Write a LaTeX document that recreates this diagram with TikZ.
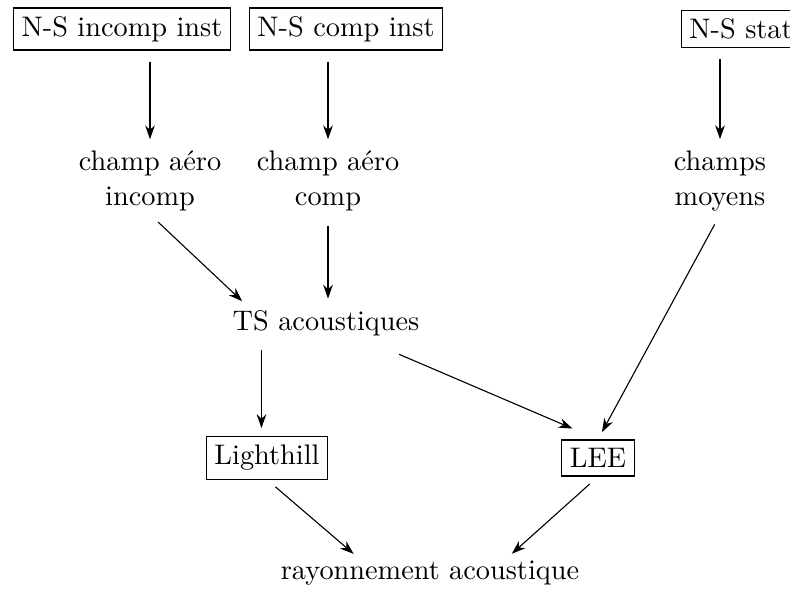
\documentclass[tikz,border=0pt]{standalone}
\usepackage{tikz}
\usetikzlibrary{calc,arrows.meta}

\begin{document}
\begin{tikzpicture}[x=0.01266cm, y=-0.01266cm,
    every node/.style={font=\fontsize{10.2pt}{12.6pt}\selectfont},
    box/.style={draw, thin, inner sep=3pt},
    txt/.style={align=center, inner sep=1pt},
    arr/.style={-{Stealth[length=5pt, width=3.5pt]}, thin, shorten <=4pt, shorten >=3pt}]

    % Fix the page size
    \useasboundingbox (0, 0) rectangle (790, 603);

    % Solvers
    \node[box] (incinst) at (122, 29) {N-S incomp inst};
    \node[box] (cominst) at (346, 29) {N-S comp inst};
    \node[box] (stat) at (741, 29) {N-S stat};

    % Fields
    \node[txt] (incomp) at (150, 181) {champ aéro\\incomp};
    \node[txt] (comp) at (328, 181) {champ aéro\\comp};
    \node[txt] (moy) at (720, 181) {champs\\moyens};

    % Sources and methods
    \node[txt] (ts) at (326, 323) {TS acoustiques};
    \node[box] (lh) at (267, 458) {Lighthill};
    \node[box] (lee) at (598, 458) {LEE};
    \node[txt] (ray) at (430, 573) {rayonnement acoustique};

    % Arrows
    \draw[arr] (incinst.south -| incomp) -- (incomp);
    \draw[arr] (cominst.south -| comp) -- (comp);
    \draw[arr] (stat.south -| moy) -- (moy);
    \draw[arr] (incomp.south) -- ([xshift=-28pt]ts.north);
    \draw[arr] (comp) -- (comp |- ts.north);
    \draw[arr] (moy.south) -- (lee.north);
    \draw[arr] ([xshift=-2pt]ts.south -| lh) -- ([xshift=-2pt]lh.north);
    \draw[arr, shorten <=14pt, shorten >=10pt] (ts) -- (lee.north);
    \draw[arr, shorten >=2pt] (lh.south) -- ([xshift=-26pt]ray.north);
    \draw[arr, shorten >=2pt] (lee.south) -- ([xshift=28pt]ray.north);
\end{tikzpicture}
\end{document}
